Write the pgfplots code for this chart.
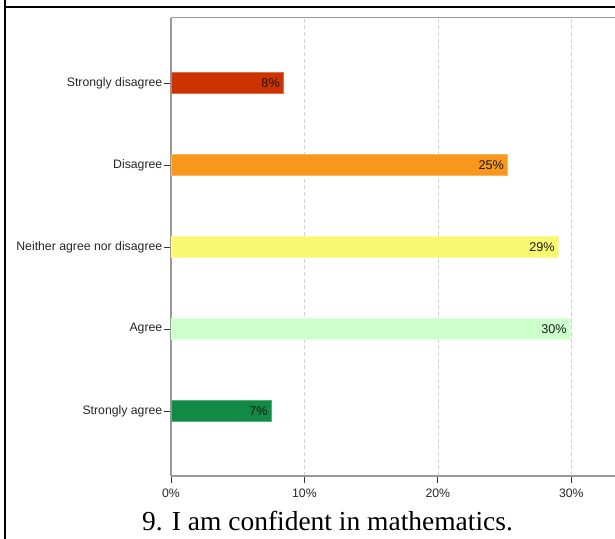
\documentclass[border=0pt]{standalone}
\usepackage{pgfplots}
\pgfplotsset{compat=1.18}
\usepackage{fontspec}
\setmainfont{Liberation Sans}
\newfontfamily\capfont{Liberation Serif}
\definecolor{cSD}{HTML}{CC3300}
\definecolor{cD}{HTML}{F7981D}
\definecolor{cN}{HTML}{FAF770}
\definecolor{cA}{HTML}{CCFFCC}
\definecolor{cSA}{HTML}{118A46}
\definecolor{axgray}{HTML}{999999}
\begin{document}
\begin{tikzpicture}[x=0.75pt,y=0.75pt]
\useasboundingbox (0,0) rectangle (615,539);
\begin{axis}[
  at={(128.25pt,47.25pt)}, anchor=south west,
  scale only axis, width=335.25pt, height=343.5pt,
  xmin=0, xmax=33.5, ymin=-0.793, ymax=4.793,
  xbar, bar width=15.75pt, bar shift=0pt,
  axis x line*=bottom, axis y line*=left,
  axis line style={axgray, line width=0.8pt},
  xtick={0,10,20,30}, xticklabels={0\%,10\%,20\%,30\%},
  ytick={0,1,2,3,4},
  yticklabels={Strongly agree,Agree,Neither agree nor disagree,Disagree,Strongly disagree},
  tick align=outside, major tick length=5.5pt,
  tick style={black!80, line width=0.6pt},
  ticklabel style={font=\fontsize{9.2pt}{11pt}\selectfont, text=black!85},
  xticklabel style={yshift=-0.5pt},
  yticklabel style={xshift=2.5pt},
  xmajorgrids, grid style={densely dashed, gray!35, line width=0.5pt},
  point meta=explicit symbolic,
  nodes near coords,
  every node near coord/.append style={anchor=east, xshift=1pt, font=\fontsize{9.5pt}{11pt}\selectfont, text=black!90},
  clip=false,
]
\addplot[fill=cSD, draw=cSD!70!white, line width=0.3pt] coordinates {(8.4,4) [8\%]};
\addplot[fill=cD, draw=cD!70!white, line width=0.3pt] coordinates {(25.2,3) [25\%]};
\addplot[fill=cN, draw=cN!70!white, line width=0.3pt] coordinates {(29.0,2) [29\%]};
\addplot[fill=cA, draw=cA!70!white, line width=0.3pt] coordinates {(29.9,1) [30\%]};
\addplot[fill=cSA, draw=cSA!70!white, line width=0.3pt] coordinates {(7.5,0) [7\%]};
\end{axis}
% top line of plot frame
\draw[axgray, line width=0.8pt] (171,521.5) -- (620,521.5);
% table cell borders
\draw[black, line width=1.6pt] (5,-5) -- (5,545);
\draw[black, line width=1.6pt] (5,532) -- (620,532);
\node[anchor=base, font=\capfont\fontsize{20.6pt}{24pt}\selectfont] at (327.5,8) {9. I am confident in mathematics.};
\end{tikzpicture}
\end{document}
